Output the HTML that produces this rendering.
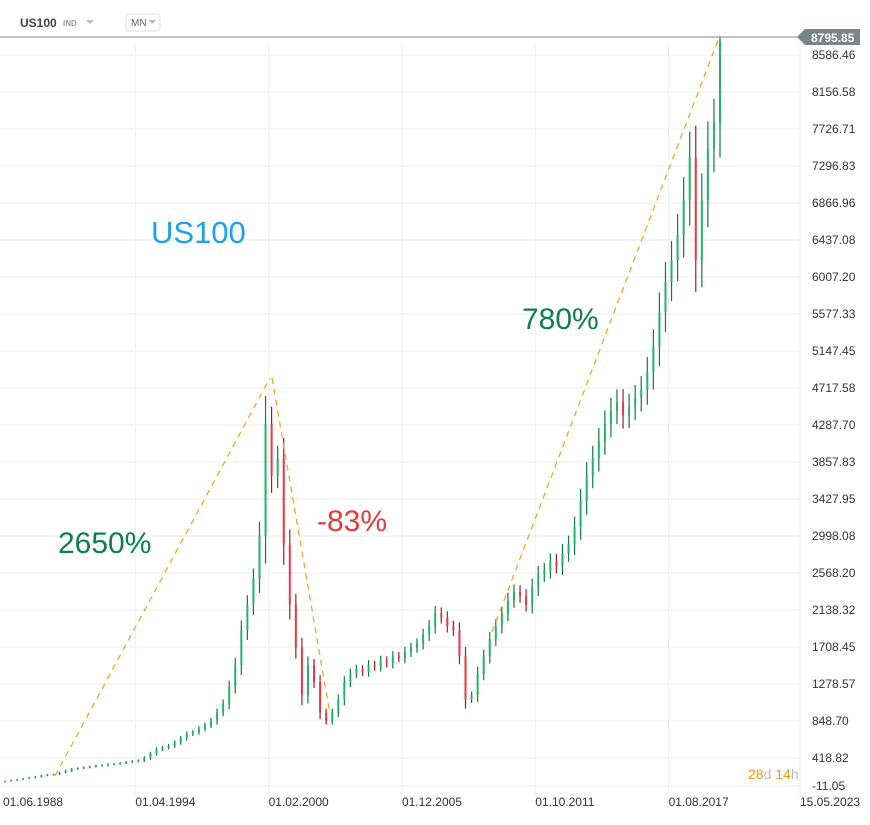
<!DOCTYPE html>
<html><head><meta charset="utf-8"><style>
body{margin:0;background:#fff;font-family:"Liberation Sans",sans-serif;}
svg text{font-family:"Liberation Sans",sans-serif;}
</style></head><body>
<svg id="chart" width="870" height="820" xmlns="http://www.w3.org/2000/svg">
<g id="grid"></g>
<text x="20" y="27" font-size="12" font-weight="bold" fill="#444">US100</text>
<text x="63" y="26" font-size="8" font-weight="bold" fill="#999">IND</text>
<path d="M86 20 L94 20 L90 24 Z" fill="#bbb"/>
<rect x="126" y="14" width="34" height="17" rx="3" fill="#fff" stroke="#ddd"/>
<text x="131" y="26" font-size="10" fill="#666">MN</text>
<path d="M148 20 L156 20 L152 24 Z" fill="#bbb"/>
<g id="candles"></g>
<g id="annot">
<line x1="55" y1="776" x2="270" y2="378" stroke="#f5a623" stroke-width="1.3" stroke-dasharray="6,5"/>
<line x1="272" y1="378" x2="330" y2="714" stroke="#f5a623" stroke-width="1.3" stroke-dasharray="6,5"/>
<line x1="492" y1="632" x2="720" y2="35" stroke="#f5a623" stroke-width="1.3" stroke-dasharray="6,5"/>
<text x="151" y="243" font-size="31" fill="#1aa3e8">US100</text>
<text x="522" y="329" font-size="30" fill="#0b7f4e">780%</text>
<text x="317" y="531" font-size="30" fill="#e53b3b">-83%</text>
<text x="58" y="553" font-size="30" fill="#0b7f4e">2650%</text>
</g>
<line x1="0" y1="37" x2="800" y2="37" stroke="#7b8589" stroke-width="1"/>
<path d="M797 37 L805 29 L860 29 L860 45 L805 45 Z" fill="#7b8589"/>
<text x="811" y="42" font-size="12" font-weight="bold" fill="#fff">8795.85</text>
<g id="yaxis"></g>
<g id="xaxis"></g>
<text x="748" y="779" font-size="14"><tspan fill="#f7931e">28</tspan><tspan fill="#bbb">d </tspan><tspan fill="#f7931e">14</tspan><tspan fill="#bbb">h</tspan></text>
</svg>
<script>
const yTicks=["8586.46","8156.58","7726.71","7296.83","6866.96","6437.08","6007.20","5577.33","5147.45","4717.58","4287.70","3857.83","3427.95","2998.08","2568.20","2138.32","1708.45","1278.57","848.70","418.82","-11.05"];
const xTicks=["01.06.1988","01.04.1994","01.02.2000","01.12.2005","01.10.2011","01.08.2017","15.05.2023"];
const xTickPos=[0,70,140,210,280,350,419];
const closes=[150,160,170,180,190,200,215,225,230,250,270,290,300,310,320,330,335,345,350,360,
370,380,390,420,470,520,540,560,600,650,700,720,760,800,850,950,1050,1250,1500,1900,
2200,2500,3000,4300,3700,3900,2900,2200,1700,1150,1500,1300,950,850,950,1100,1300,1400,1450,1420,
1500,1480,1550,1520,1600,1580,1650,1700,1750,1850,1950,2100,2050,1950,1900,1600,1100,1150,1400,1600,
1800,1950,2100,2250,2350,2300,2200,2400,2550,2600,2700,2650,2800,2900,3100,3400,3700,3900,4100,4300,
4450,4550,4400,4500,4600,4700,4900,5200,5600,5950,6200,6500,6900,7400,6200,6900,7500,7800,8750];
const maxPrice=8795.85;
const NS="http://www.w3.org/2000/svg";
const K=703/8167.64;
function yS(v){return 758-(v-418.82)*K;}
const firstX=5,lastX=720;
function xS(i){return firstX+i*(lastX-firstX)/(closes.length-1);}
function xMonth(m){return 2+m*(800-2)/419;}
const grid=document.getElementById('grid');
yTicks.forEach((t,i)=>{let y=yS(parseFloat(t));
 if(i==yTicks.length-1) y=786;
 const l=document.createElementNS(NS,'line');
 l.setAttribute('x1',0);l.setAttribute('x2',800);l.setAttribute('y1',y);l.setAttribute('y2',y);
 l.setAttribute('stroke','#eeeeee');
 
 
 grid.appendChild(l);
 const tx=document.createElementNS(NS,'text');
 tx.setAttribute('x',812);tx.setAttribute('y',y+4);tx.setAttribute('font-size','12');tx.setAttribute('fill','#333');
 tx.textContent=t;
 
 
 document.getElementById('yaxis').appendChild(tx);
});
xTicks.forEach((t,i)=>{const x=xMonth(xTickPos[i]);
 if(i>0){const l=document.createElementNS(NS,'line');
 l.setAttribute('x1',x);l.setAttribute('x2',x);l.setAttribute('y1',45);l.setAttribute('y2',795);
 l.setAttribute('stroke','#eeeeee');
 
 
 grid.appendChild(l);}
 const tx=document.createElementNS(NS,'text');
 tx.setAttribute('x',i==0?3:x);tx.setAttribute('y',806);tx.setAttribute('font-size','12');tx.setAttribute('fill','#333');
 tx.textContent=t;
 
 
 document.getElementById('xaxis').appendChild(tx);
});
const cg=document.getElementById('candles');
closes.forEach((c,i)=>{
 const o=i==0?c*0.95:closes[i-1];
 const up=c>=o;
 const spread=Math.abs(c-o)*0.15+c*0.03;
 const hi=Math.min(maxPrice,Math.max(o,c)+spread), lo=Math.min(o,c)-spread;
 const x=xS(i);
 const w=document.createElementNS(NS,'line');
 w.setAttribute('x1',x);w.setAttribute('x2',x);w.setAttribute('y1',yS(hi));w.setAttribute('y2',yS(lo));
 w.setAttribute('stroke',up?'#0e7a45':'#a01c2a');w.setAttribute('stroke-width','1.2');
 
 
 cg.appendChild(w);
 const b=document.createElementNS(NS,'rect');
 const y1=yS(Math.max(o,c)),y2=yS(Math.min(o,c));
 b.setAttribute('x',x-1);b.setAttribute('width',2);b.setAttribute('y',y1);b.setAttribute('height',Math.max(1,y2-y1));
 b.setAttribute('fill',up?'#20b36a':'#ee3344');
 
 
 cg.appendChild(b);
});
</script>
</body></html>
